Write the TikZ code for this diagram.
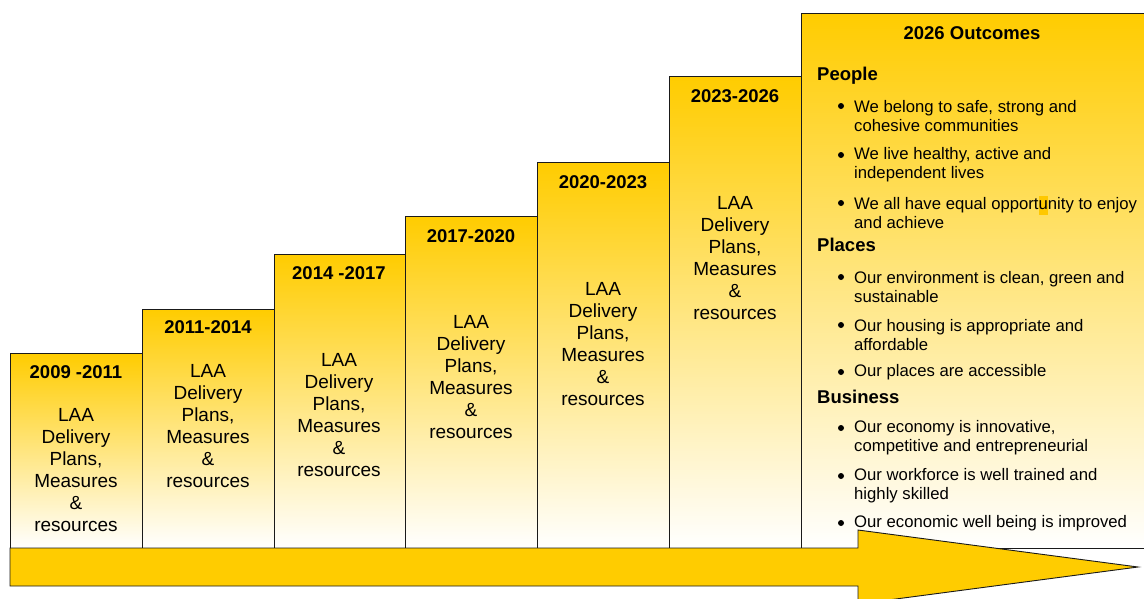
\documentclass[tikz,border=0pt]{standalone}
\usepackage{fontspec}
\setmainfont{Liberation Sans}
\definecolor{gold}{HTML}{FFCC00}
\definecolor{hl}{HTML}{FFC800}
\definecolor{edge}{HTML}{1A1A1A}
\newcommand{\hlmark}[1]{{\setlength{\fboxsep}{0pt}\colorbox{hl}{\strut #1}}}
\begin{document}
\begin{tikzpicture}[x=1pt,y=-1pt,
  stepbox/.style={draw=edge, line width=0.9pt, top color=gold, bottom color=white,
    anchor=south west, inner sep=0pt, outer sep=0pt},
  yearlbl/.style={font=\fontsize{18.5}{22}\selectfont\bfseries, inner sep=0pt},
  body/.style={font=\fontsize{19}{22}\selectfont, align=center, inner sep=0pt},
  head/.style={font=\fontsize{18.5}{22}\selectfont\bfseries, anchor=west, inner sep=0pt},
  item/.style={font=\fontsize{16.7}{19}\selectfont, align=left, anchor=west, inner sep=0pt},
  dot/.style={circle, fill=black, inner sep=0pt, minimum size=6pt}]

\useasboundingbox (0,0) rectangle (1144,598);
\clip (0,0) rectangle (1144,598);

% rising steps, one per planning period
\node[stepbox, minimum width=132pt, minimum height=195pt] (b1) at (10,548) {};
\node[stepbox, minimum width=132pt, minimum height=239pt] (b2) at (142,548) {};
\node[stepbox, minimum width=131pt, minimum height=294pt] (b3) at (274,548) {};
\node[stepbox, minimum width=132pt, minimum height=332pt] (b4) at (405,548) {};
\node[stepbox, minimum width=132pt, minimum height=386pt] (b5) at (537,548) {};
\node[stepbox, minimum width=132pt, minimum height=472pt] (b6) at (669,548) {};
\node[stepbox, minimum width=346pt, minimum height=535pt] (b7) at (801,548) {};

% period labels
\node[yearlbl] (y1) at (76,372) {2009 -2011};
\node[yearlbl] (y2) at (208,327) {2011-2014};
\node[yearlbl] (y3) at (339,273) {2014 -2017};
\node[yearlbl] (y4) at (471,236) {2017-2020};
\node[yearlbl] (y5) at (603,182) {2020-2023};
\node[yearlbl] (y6) at (735,96) {2023-2026};

% step contents
\node[body] (t1) at (76,470) {LAA\\Delivery\\Plans,\\Measures\\\&\\resources};
\node[body] (t2) at (208,426.5) {LAA\\Delivery\\Plans,\\Measures\\\&\\resources};
\node[body] (t3) at (339,415) {LAA\\Delivery\\Plans,\\Measures\\\&\\resources};
\node[body] (t4) at (471,377.5) {LAA\\Delivery\\Plans,\\Measures\\\&\\resources};
\node[body] (t5) at (603,344) {LAA\\Delivery\\Plans,\\Measures\\\&\\resources};
\node[body] (t6) at (735,258) {LAA\\Delivery\\Plans,\\Measures\\\&\\resources};

% outcomes panel
\node[yearlbl] (oc) at (972,33) {2026 Outcomes};

\node[head] (hp) at (817,76) {People};
\node[dot] (d1) at (841,106) {};
\node[item] (i1) at (854,116) {We belong to safe, strong and\\cohesive communities};
\node[dot] (d2) at (841,155) {};
\node[item] (i2) at (854,165) {We live healthy, active and\\independent lives};
\node[dot] (d3) at (841,203) {};
\node[item] (i3) at (854,212.5) {We all have equal opport\hlmark{u}nity to enjoy\\and achieve};

\node[head] (hq) at (817,245) {Places};
\node[dot] (d4) at (841,277) {};
\node[item] (i4) at (854,287) {Our environment is clean, green and\\sustainable};
\node[dot] (d5) at (841,325) {};
\node[item] (i5) at (854,335) {Our housing is appropriate and\\affordable};
\node[dot] (d6) at (841,372) {};
\node[item] (i6) at (854,372.5) {Our places are accessible};

\node[head] (hb) at (817,397) {Business};
\node[dot] (d7) at (841,428) {};
\node[item] (i7) at (854,438) {Our economy is innovative,\\competitive and entrepreneurial};
\node[dot] (d8) at (841,476) {};
\node[item] (i8) at (854,486) {Our workforce is well trained and\\highly skilled};
\node[dot] (d9) at (841,523) {};
\node[item] (i9) at (854,523.5) {Our economic well being is improved};

% time arrow along the base
\draw[fill=gold, draw=edge, line width=0.9pt]
  (10,548) -- (858,548) -- (858,530) -- (1138,567) -- (858,604)
  -- (858,586) -- (10,586) -- cycle;
\end{tikzpicture}
\end{document}
